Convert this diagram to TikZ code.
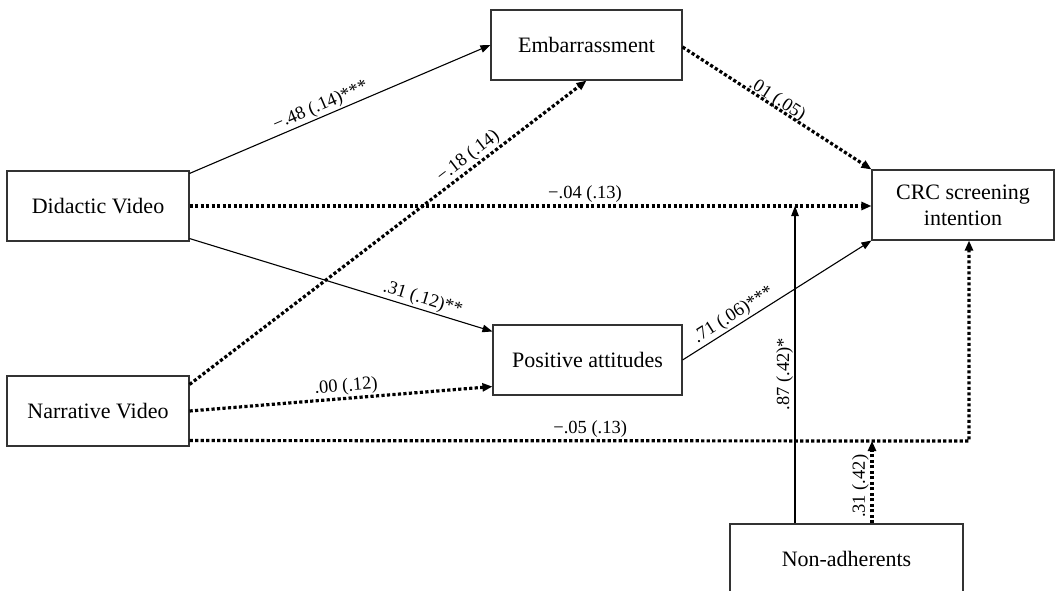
\documentclass[tikz,border=0pt]{standalone}
\usepackage{fontspec}
\setmainfont{Liberation Serif}
\usetikzlibrary{arrows.meta}
\begin{document}
\begin{tikzpicture}[x=1pt,y=-1pt,
  box/.style={draw=black!80, line width=1.1pt, minimum height=70pt, inner sep=0pt, align=center,
    font=\fontsize{22}{26}\selectfont},
  solidarr/.style={line width=1.1pt, -{Triangle[length=10pt,width=7.5pt]}},
  dotarr/.style={line width=3.2pt, dash pattern=on 3.2pt off 2.3pt, -{Triangle[length=10pt,width=8pt]}},
  lbl/.style={font=\fontsize{18.5}{20}\selectfont, inner sep=1.5pt, sloped, above}]
\useasboundingbox (0,0) rectangle (1059,591);
\node[box, minimum width=182pt] (did) at (98,206) {Didactic Video};
\node[box, minimum width=182pt] (nar) at (98,411) {Narrative Video};
\node[box, minimum width=191pt] (emb) at (586.5,45) {Embarrassment};
\node[box, minimum width=189pt] (pos) at (587.5,360) {Positive attitudes};
\node[box, minimum width=182pt] (crc) at (963,205) {CRC screening\\intention};
\node[box, minimum width=233pt] (non) at (846.5,559) {Non-adherents};
\coordinate (m1) at (795,206);
\coordinate (m2) at (872,441);
\coordinate (c1) at (969,441);
% Didactic
\draw[solidarr] ([yshift=-3pt]did.north east) -- node[lbl, pos=0.45] {−.48 (.14)***} (emb.west);
\draw[dotarr] (did.east) -- node[lbl, pos=0.58] {−.04 (.13)} (did.east -| crc.west);
\draw[solidarr] ([yshift=3pt]did.south east) -- node[lbl, pos=0.76] {.31 (.12)**} ([yshift=-7pt]pos.north west);
% Narrative
\draw[dotarr] ([yshift=-9pt]nar.north east) -- node[lbl, pos=0.72] {−.18 (.14)} (emb.south);
\draw[dotarr] (nar.east) -- node[lbl, pos=0.52] {.00 (.12)} ([yshift=9pt]pos.south west);
\draw[dotarr] ([yshift=6pt]nar.south east) -- node[lbl, pos=0.514, sloped=false] {−.05 (.13)} (c1) -- (c1 |- crc.south);
% mediators
\draw[dotarr] ([yshift=-2pt]emb.east) -- node[lbl, pos=0.48, inner sep=0pt, yshift=-3pt] {.01 (.05)} (crc.north west);
\draw[solidarr] (pos.east) -- node[lbl, pos=0.3] {.71 (.06)***} (crc.south west);
% moderator
\draw[solidarr] (m1 |- non.north) -- node[lbl, pos=0.47] {.87 (.42)*} (m1);
\draw[dotarr] (m2 |- non.north) -- node[lbl, pos=0.45] {.31 (.42)} (m2);
\end{tikzpicture}
\end{document}
